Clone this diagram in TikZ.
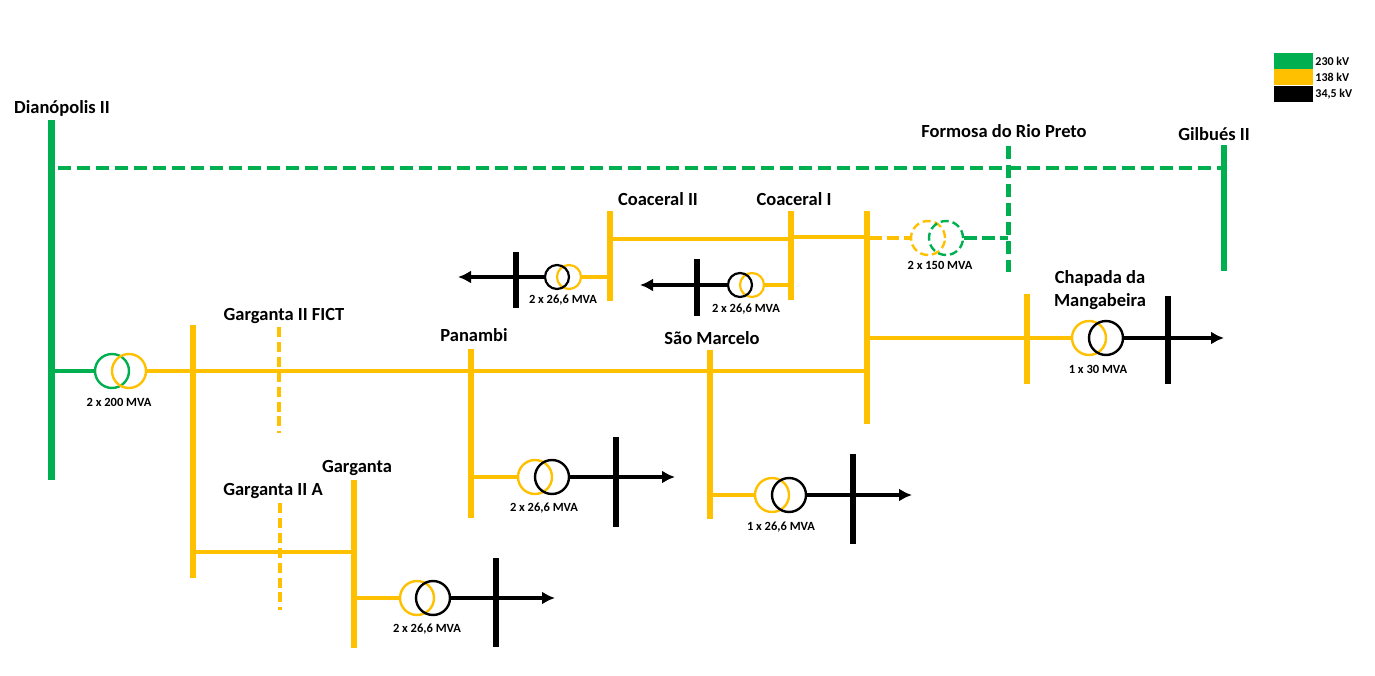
\documentclass[tikz,border=0pt]{standalone}
\usepackage{fontspec}
\setmainfont{Carlito}
\usepackage{xcolor}
\usetikzlibrary{arrows.meta,positioning}
\definecolor{kvgreen}{HTML}{00B050}
\definecolor{kvyellow}{HTML}{FFC000}
\begin{document}
\begin{tikzpicture}[
x=1pt,y=-1pt,
subname/.style={
  inner sep=0pt,
  font=\fontsize{18.5}{23}\selectfont\bfseries
},
mva/.style={
  inner sep=0pt,
  font=\fontsize{12.5}{15}\selectfont\bfseries
},
bus/.style={
  inner sep=0pt,
  minimum width=6pt
},
conn/.style={
  line width=4pt
},
dconn/.style={
  line width=4pt,
  dash pattern=on 13pt off 6pt
},
load/.style={
  line width=4pt,
  -{Latex[length=13pt,width=13pt]}
},
trbig/.style={
  draw,
  circle,
  inner sep=0pt,
  line width=2.4pt,
  minimum size=34pt
},
trsmall/.style={
  draw,
  circle,
  inner sep=0pt,
  line width=2.2pt,
  minimum size=24pt
},
legbox/.style={
  inner sep=0pt,
  minimum width=39pt,
  minimum height=16pt
},
legtext/.style={
  inner sep=0pt,
  font=\fontsize{12}{14}\selectfont\bfseries
}
]
\useasboundingbox (0,0) rectangle (1375,676);

% legend
\node[legbox,fill=kvgreen,label={[legtext,label distance=2pt]right:230 kV}] (lg) at (1293.5,61) {};
\node[legbox,fill=kvyellow,below=0pt of lg,label={[legtext,label distance=2pt]right:138 kV}] (ly) {};
\node[legbox,fill=black,below=0pt of ly,label={[legtext,label distance=2pt]right:{34,5 kV}}] (lb) {};

% 230 kV
\node[bus,fill=kvgreen,minimum width=7pt,minimum height=360pt] (dian) at (51,300) {};
\node[bus,fill=kvgreen,minimum height=126pt] (gilb) at (1224,208) {};
\coordinate (formt) at (1008,146);
\coordinate (formb) at (1008,272);
\draw[dconn,kvgreen,line width=5pt] (formt) -- (formb);
\draw[dconn,kvgreen] (dian.east |- 0,168) ++(3,0) -- (gilb.west |- 0,168);

% 138 kV
\node[bus,fill=kvyellow,minimum height=253pt] (garg2) at (193,451.5) {};
\node[bus,fill=kvyellow,minimum height=169pt] (pana) at (471,433.5) {};
\node[bus,fill=kvyellow,minimum height=169pt] (marc) at (710,434.5) {};
\node[bus,fill=kvyellow,minimum height=168pt] (garg) at (354,564) {};
\node[bus,fill=kvyellow,minimum height=90pt] (coa2) at (610,256) {};
\node[bus,fill=kvyellow,minimum height=89pt] (coa1) at (791,255.5) {};
\node[bus,fill=kvyellow,minimum height=213pt] (main) at (867,317.5) {};
\node[bus,fill=kvyellow,minimum height=90pt] (chap) at (1027,339) {};
\coordinate (fictt) at (279,327);
\coordinate (fictb) at (279,433);
\coordinate (gartt) at (280,503);
\coordinate (gartb) at (280,610);
\draw[conn,kvyellow,dash pattern=on 10pt off 4.9pt] (fictt) -- (fictb);
\draw[conn,kvyellow,dash pattern=on 10pt off 4.9pt] (gartt) -- (gartb);

% transformers
\node[trbig,kvgreen] (t1a) at (112,371) {};
\node[trbig,kvyellow] (t1b) at (129,371) {};
\node[trbig,kvyellow,dash pattern=on 8pt off 4pt] (t2a) at (928,238) {};
\node[trbig,kvgreen,dash pattern=on 8pt off 4pt] (t2b) at (946,238) {};
\node[trbig,kvyellow] (t3a) at (1089,338) {};
\node[trbig,black] (t3b) at (1106,338) {};
\node[trbig,kvyellow] (t4a) at (535,477) {};
\node[trbig,black] (t4b) at (552,477) {};
\node[trbig,kvyellow] (t5a) at (772,495) {};
\node[trbig,black] (t5b) at (789,495) {};
\node[trbig,kvyellow] (t6a) at (417,598) {};
\node[trbig,black] (t6b) at (433,598) {};
\node[trsmall,kvyellow] (t7a) at (569,277) {};
\node[trsmall,black] (t7b) at (557,277) {};
\node[trsmall,kvyellow] (t8a) at (752,285) {};
\node[trsmall,black] (t8b) at (740,285) {};

% 34,5 kV
\node[bus,fill=black,minimum height=88pt] (loadc) at (1168,340) {};
\node[bus,fill=black,minimum height=90pt] (loadp) at (616,482) {};
\node[bus,fill=black,minimum height=90pt] (loadm) at (853,499) {};
\node[bus,fill=black,minimum height=89pt] (loadg) at (496,602.5) {};
\node[bus,fill=black,minimum height=56pt] (load2) at (516,280) {};
\node[bus,fill=black,minimum height=57pt] (load1) at (697,287.5) {};
\coordinate (endc) at (1224,338);
\coordinate (endp) at (675,477);
\coordinate (endm) at (912,495);
\coordinate (endg) at (555,598);
\coordinate (end2) at (458,277);
\coordinate (end1) at (640,285);
\coordinate (jform) at (1008,238);

% connections
\draw[conn,kvgreen] (dian.east |- t1a) -- (t1a);
\draw[conn,kvyellow] (t1b) -- (main.west |- t1b);
\draw[conn,kvyellow] (coa2.east |- 0,239) -- (coa1.west |- 0,239);
\draw[conn,kvyellow] (coa1.east |- 0,237) -- (main.west |- 0,237);
\draw[conn,kvyellow] (main.east |- t3a) -- (t3a);
\draw[conn,kvyellow] (pana.east |- t4a) -- (t4a);
\draw[conn,kvyellow] (marc.east |- t5a) -- (t5a);
\draw[conn,kvyellow] (garg2.east |- 0,552) -- (garg.west |- 0,552);
\draw[conn,kvyellow] (garg.east |- t6a) -- (t6a);
\draw[conn,kvyellow] (t7a) -- (coa2.west |- t7a);
\draw[conn,kvyellow] (t8a) -- (coa1.west |- t8a);
\draw[conn,kvyellow,dash pattern=on 12pt off 5pt] (main.east |- t2a) -- (t2a);
\draw[conn,kvgreen,dash pattern=on 13pt off 5pt] (t2b) -- (jform);
\draw[load] (t3b) -- (endc);
\draw[load] (t4b) -- (endp);
\draw[load] (t5b) -- (endm);
\draw[load] (t6b) -- (endg);
\draw[load] (t7b) -- (end2);
\draw[load] (t8b) -- (end1);

% names
\node[subname] (ndian) at (62,108) {Dianópolis II};
\node[subname] (nform) at (1004,131) {Formosa do Rio Preto};
\node[subname] (ngilb) at (1214,134) {Gilbués II};
\node[subname] (ncoa2) at (658,199) {Coaceral II};
\node[subname] (ncoa1) at (794,199) {Coaceral I};
\node[subname,align=center] (nchap) at (1100,290) {Chapada da\\Mangabeira};
\node[subname] (nfict) at (284,316) {Garganta II FICT};
\node[subname] (npana) at (474,335) {Panambi};
\node[subname] (nmarc) at (712,338) {São Marcelo};
\node[subname] (ngarg) at (357,468) {Garganta};
\node[subname] (ngart) at (273,491) {Garganta II A};

% ratings
\node[mva] (m1) at (119,402) {2 x 200 MVA};
\node[mva] (m2) at (940,265) {2 x 150 MVA};
\node[mva] (m3) at (1098,369) {1 x 30 MVA};
\node[mva] (m4) at (544,508) {2 x 26,6 MVA};
\node[mva] (m5) at (781,527) {1 x 26,6 MVA};
\node[mva] (m6) at (427,629) {2 x 26,6 MVA};
\node[mva] (m7) at (563,300) {2 x 26,6 MVA};
\node[mva] (m8) at (746,309) {2 x 26,6 MVA};
\end{tikzpicture}
\end{document}
